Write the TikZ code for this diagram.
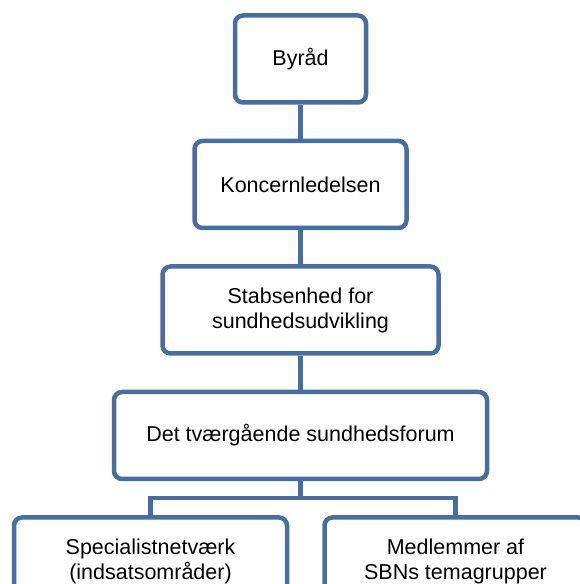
\documentclass[tikz,border=0pt]{standalone}
\usepackage{fontspec}
\setmainfont{Liberation Sans}
\usetikzlibrary{positioning}
\definecolor{boxblue}{RGB}{70,110,165}

\begin{document}
\begin{tikzpicture}[
    x=1pt, y=1pt,
    node distance=34pt,
    orgbox/.style={rectangle, draw=boxblue, fill=white, line width=4.5pt, rounded corners=8pt, align=center, minimum height=87pt, inner sep=2pt, font=\fontsize{21.5}{25}\selectfont},
    link/.style={draw=boxblue, line width=4.5pt}
]
    \useasboundingbox (0,0) rectangle (579,584);

    \node [orgbox, minimum width=131pt] (byraad) at (300.5,525) {Byråd};
    \node [orgbox, minimum width=212pt, below=of byraad] (koncern) {Koncernledelsen};
    \node [orgbox, minimum width=276pt, below=of koncern] (stab) {Stabsenhed for\\sundhedsudvikling};
    \node [orgbox, minimum width=373pt, below=of stab] (forum) {Det tværgående sundhedsforum};
    \node [orgbox, minimum width=273pt, below=of forum, xshift=-150pt] (special) {Specialistnetværk\\(indsatsområder)};
    \node [orgbox, minimum width=262pt, below=of forum, xshift=155pt] (medlem) {Medlemmer af\\SBNs temagrupper};

    \coordinate (fork) at ([yshift=-17pt]forum.south);

    \draw [link] (byraad) -- (koncern);
    \draw [link] (koncern) -- (stab);
    \draw [link] (stab) -- (forum);
    \draw [link] (forum) -- (fork);
    \draw [link] (fork) -| (special);
    \draw [link] (fork) -| (medlem);
\end{tikzpicture}
\end{document}
